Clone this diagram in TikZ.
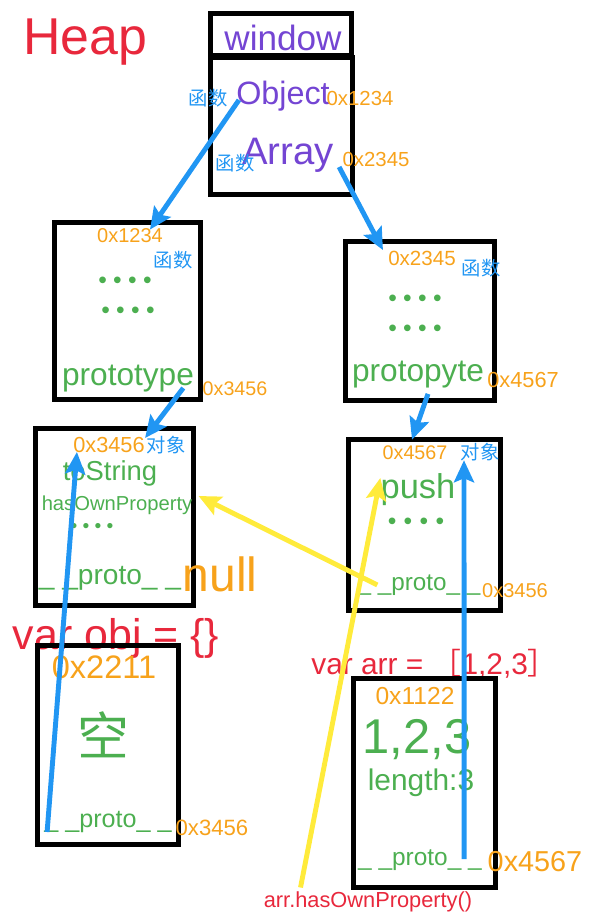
\documentclass[tikz,border=0pt]{standalone}
\usepackage{fontspec}
\setmainfont{Liberation Sans}
\newfontfamily\cjk{Noto Sans CJK SC}
\usepackage{tikz}
\usetikzlibrary{arrows.meta}
\usepackage{xcolor}
\definecolor{heapred}{HTML}{E8283C}
\definecolor{winpurple}{HTML}{7445D3}
\definecolor{refblue}{HTML}{2196F3}
\definecolor{addrorange}{HTML}{F7A21B}
\definecolor{propgreen}{HTML}{4CAF50}
\definecolor{lookyellow}{HTML}{FFEB3B}
\newcommand\fs[1]{\fontsize{#1}{#1}\selectfont}
\newcommand\dotrow[1]{•\hspace{#1}•\hspace{#1}•\hspace{#1}•}
\tikzset{
	>={Stealth[length=4.4mm, width=4mm, inset=0.8mm]},
	box/.style={draw, line width=2.8pt},
	txt/.style={inner sep=0pt, font=\fs{#1}},
	addr/.style={inner sep=0pt, text=addrorange, font=\fs{#1}},
	prop/.style={inner sep=0pt, text=propgreen, font=\fs{#1}},
	fn/.style={inner sep=0pt, text=refblue, font=\cjk\fs{11}},
	ptr/.style={->, line width=2.8pt, draw=refblue},
	look/.style={->, line width=2.8pt, draw=lookyellow}}

\begin{document}
\begin{tikzpicture}[x=0.02cm, y=-0.02cm]
		\useasboundingbox (0,0) rectangle (593,916);
		
		\node[txt=29.5, text=heapred] (heap) at (85,42) {Heap};
		
		% window
		\draw[box] (210.5,13.5) rectangle (351.5,55);
		\draw[box] (210.5,57.5) rectangle (352.5,194.5);
		\node[txt=20, text=winpurple] (win) at (283,38) {window};
		\node[txt=18.4, text=winpurple] (obj) at (283,96) {Object};
		\node[fn] (objfn) at (208,98) {函数};
		\node[addr=11.6] (objaddr) at (360,98) {0x1234};
		\node[txt=21.8, text=winpurple] (arr) at (288,155) {Array};
		\node[fn] (arrfn) at (235,163) {函数};
		\node[addr=11.6] (arraddr) at (376,159) {0x2345};
		
		% Object
		\draw[box] (54.5,222.5) rectangle (200.5,399.5);
		\node[addr=11.4] (fnobjaddr) at (130,236) {0x1234};
		\node[fn] (fnobjfn) at (173,260) {函数};
		\node[prop=14] (fnobjdots1) at (125,283) {\dotrow{1.27mm}};
		\node[prop=14] (fnobjdots2) at (128,313) {\dotrow{1.27mm}};
		\node[prop=18] (fnobjproto) at (128,379) {prototype};
		\node[addr=11.2] (fnobjprotoaddr) at (235,389) {0x3456};
		
		% Array
		\draw[box] (345.5,241.5) rectangle (494.5,400.5);
		\node[addr=11.7] (fnarraddr) at (422,258) {0x2345};
		\node[fn] (fnarrfn) at (481,268) {函数};
		\node[prop=14] (fnarrdots1) at (415,301) {\dotrow{1.27mm}};
		\node[prop=14] (fnarrdots2) at (415,331) {\dotrow{1.27mm}};
		\node[prop=18] (fnarrproto) at (418,375) {protopyte};
		\node[addr=12.4] (fnarrprotoaddr) at (523,380) {0x4567};
		
		% Object.prototype
		\draw[box] (35.5,428.5) rectangle (193.5,605.5);
		\node[addr=12.4] (objpaddr) at (109,445) {0x3456};
		\node[fn] (objpobj) at (166,445) {对象};
		\node[prop=15.6] (tostr) at (110,473) {toString};
		\node[prop=11.5] (hasown) at (117,505) {hasOwnProperty};
		\node[prop=11] (objpdots) at (92,528) {\dotrow{1.04mm}};
		\node[prop=16] (objpproto) at (110,578) {\_ \_proto\_ \_};
		\node[addr=27.3] (null) at (220,574) {null};
		
		% Array.prototype
		\draw[box] (348.5,439.5) rectangle (500.5,610.5);
		\node[addr=11.2] (arrpaddr) at (415,453) {0x4567};
		\node[fn] (arrpobj) at (480,452) {对象};
		\node[prop=19.6] (push) at (418,490) {push};
		\node[prop=14] (arrpdots) at (416,524) {\dotrow{1.47mm}};
		\node[prop=13.8] (arrpproto) at (419,585) {\_ \_proto\_ \_};
		\node[addr=11.4] (arrpprotoaddr) at (515,591) {0x3456};
		
		% obj
		\node[txt=24.4, text=heapred] (objvar) at (116,638) {var obj = \{\}};
		\draw[box] (37.5,645.5) rectangle (178.5,844.5);
		\node[addr=18.5] (objaddr2) at (104,667) {0x2211};
		\node[prop=29.5, font=\cjk\fs{29.5}] (empty) at (103,735) {空};
		\node[prop=14.3] (objproto) at (108,822) {\_ \_proto\_ \_};
		\node[addr=12.6] (objprotoaddr) at (212,828) {0x3456};
		
		% arr
		\node[txt=17, text=heapred, anchor=west] (arrvar) at (311,664) {var arr = {\cjk ［}1,2,3{\cjk ］}};
		\draw[box] (353.5,678.5) rectangle (495.5,887.5);
		\node[addr=14] (arraddr2) at (415,696) {0x1122};
		\node[prop=27.8] (items) at (417,740) {1,2,3};
		\node[prop=17] (len) at (421,783) {length:3};
		\node[prop=13.9] (arrproto) at (420,860) {\_ \_proto\_ \_};
		\node[addr=16.4] (arrprotoaddr) at (535,862) {0x4567};
		\node[txt=12.4, text=heapred] (call) at (368,902) {arr.hasOwnProperty()};
		
		\draw[ptr] ([shift={(3,4)}]obj.west) -- ([shift={(20,1)}]fnobjaddr.north);
		\draw[ptr] ([shift={(5,12)}]arr.east) -- ([shift={(-5,-8)}]fnarraddr.west);
		\draw[ptr] ([shift={(-11,9)}]fnobjproto.east) -- ([shift={(0,-7)}]objpaddr.east);
		\draw[ptr] ([shift={(10,5)}]fnarrproto.south) -- ([shift={(-3,-6)}]arrpaddr.north);
		\draw[ptr] ([shift={(3,10)}]objproto.west) -- ([shift={(4,7)}]objpaddr.west);
		\draw[ptr] ([shift={(-18,-1)}]arrproto.east) -- ([shift={(-16,-1)}]arrpobj.south);
		
		\draw[look] ([shift={(20,0)}]arrpproto.west) -- ([shift={(6,-9)}]hasown.east);
		\draw[look] ([shift={(37,-4)}]call.north west) -- ([shift={(0,-12)}]push.west);
		
	\end{tikzpicture}
\end{document}
